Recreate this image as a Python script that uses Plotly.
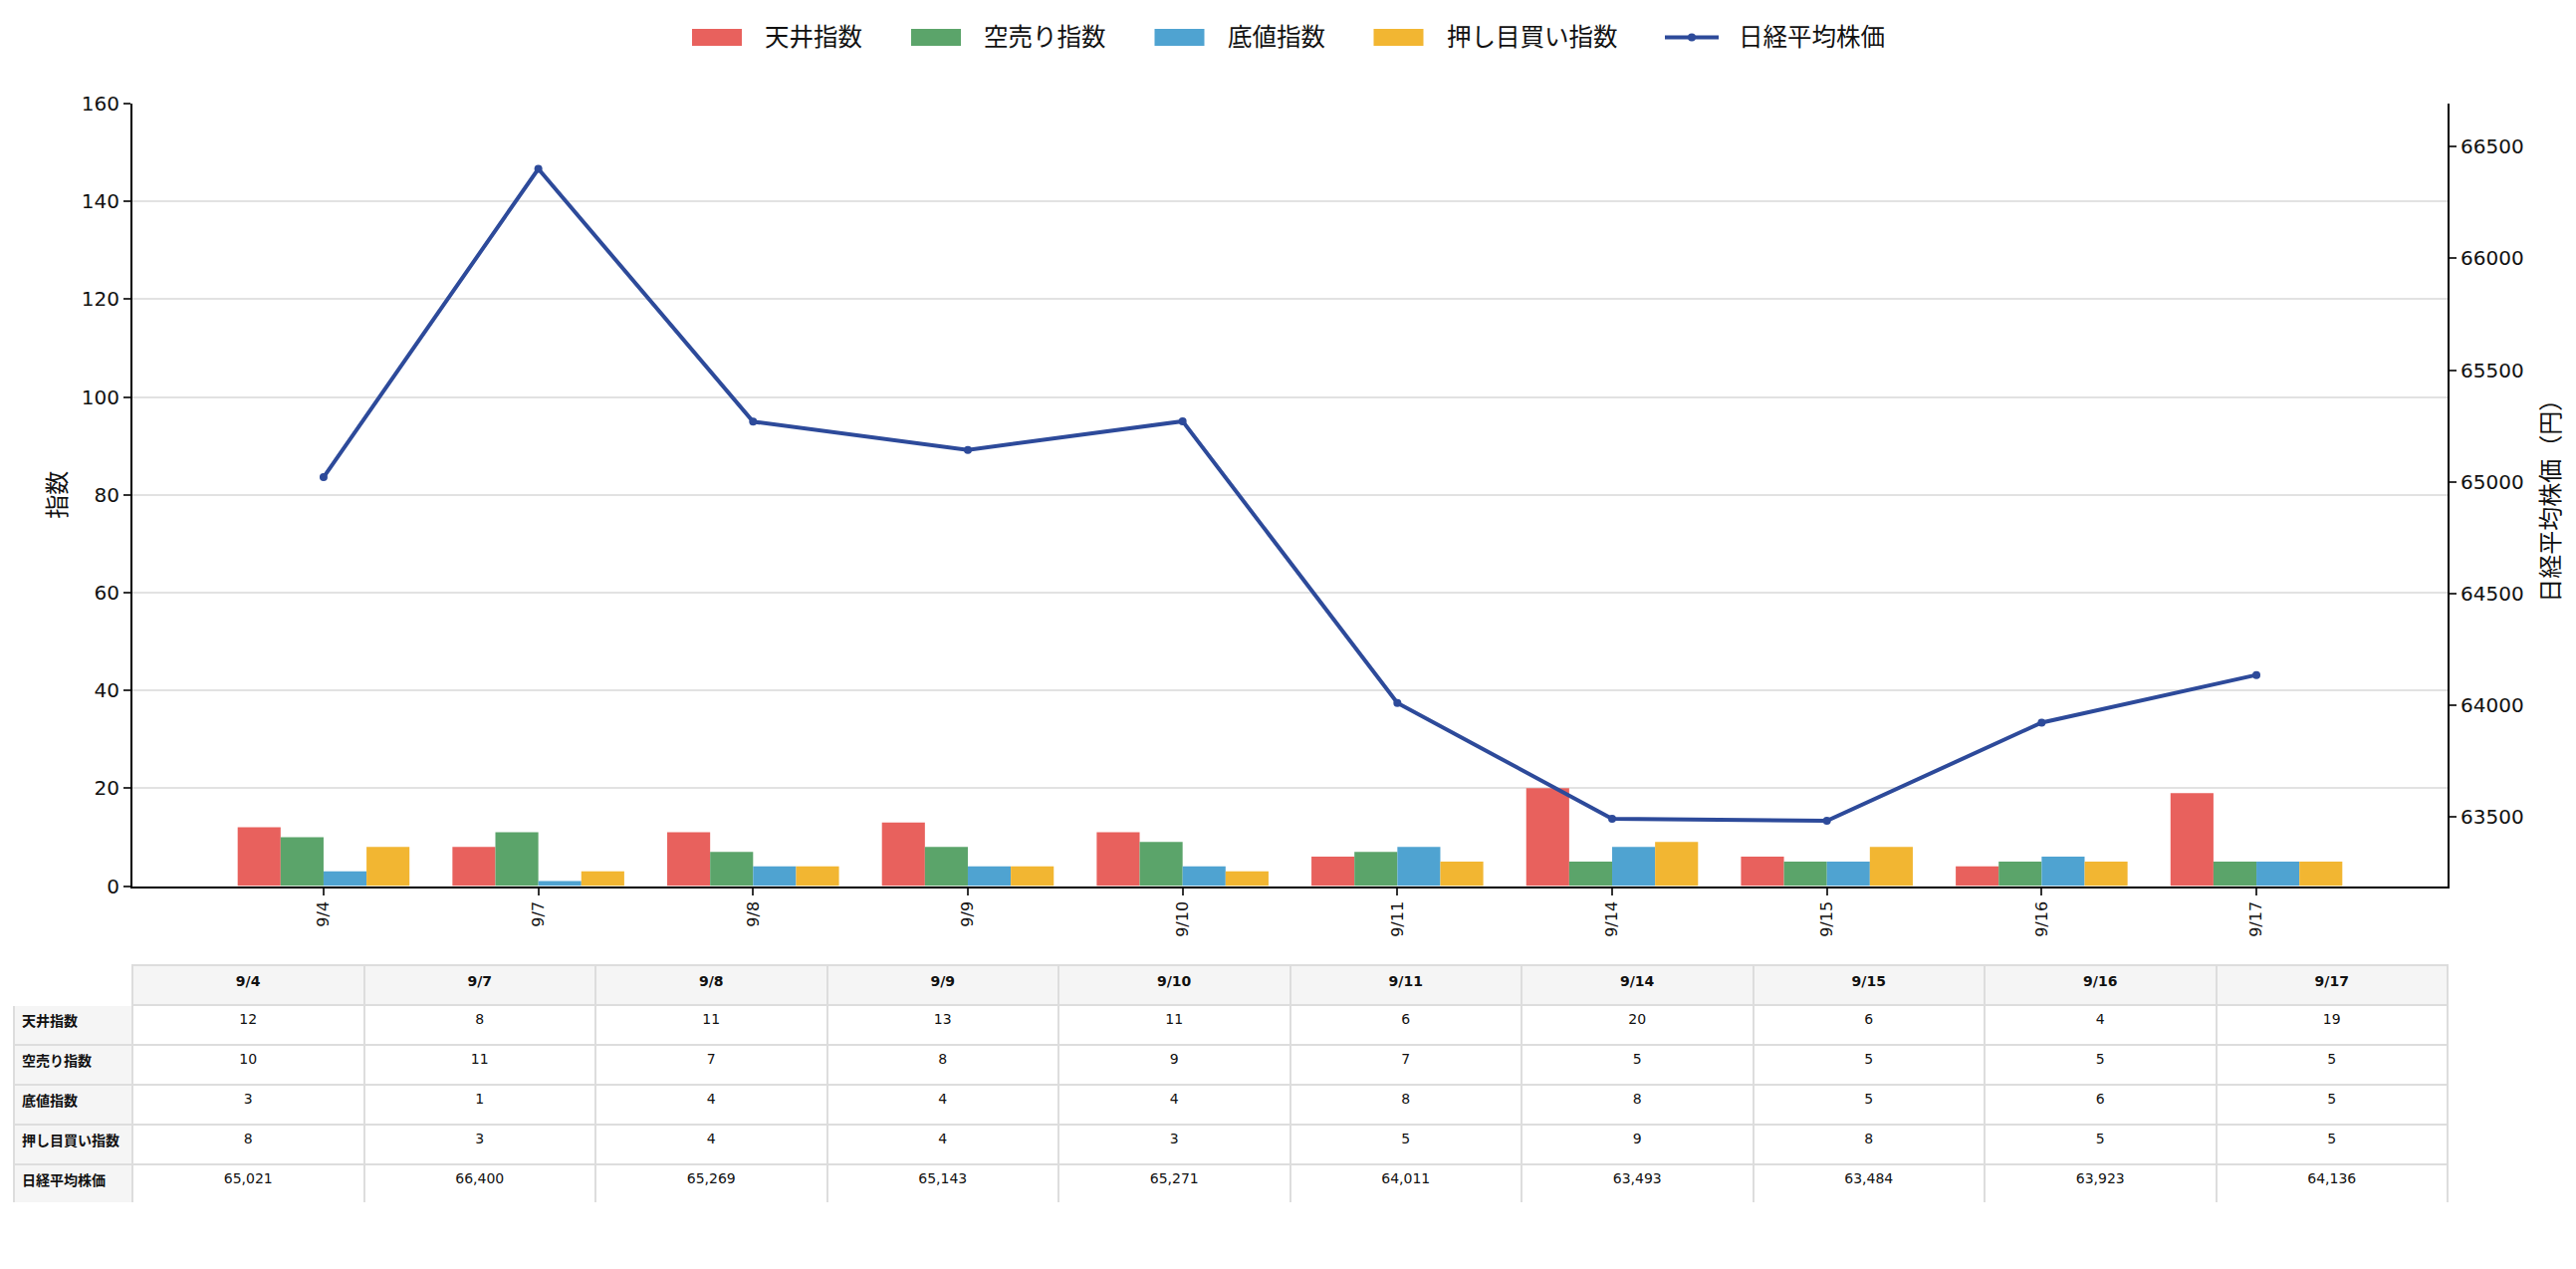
import plotly.graph_objects as go

W, H = 2587, 1274
FONT = "DejaVu Sans, Noto Sans CJK JP, sans-serif"

dates = ["9/4", "9/7", "9/8", "9/9", "9/10", "9/11", "9/14", "9/15", "9/16", "9/17"]
tenjo = [12, 8, 11, 13, 11, 6, 20, 6, 4, 19]       # 天井指数
karauri = [10, 11, 7, 8, 9, 7, 5, 5, 5, 5]         # 空売り指数
sokone = [3, 1, 4, 4, 4, 8, 8, 5, 6, 5]            # 底値指数
oshime = [8, 3, 4, 4, 3, 5, 9, 8, 5, 5]            # 押し目買い指数
nikkei = [65021, 66400, 65269, 65143, 65271, 64011, 63493, 63484, 63923, 64136]

bar_names = ["天井指数", "空売り指数", "底値指数", "押し目買い指数"]
bar_colors = ["#E8615D", "#5BA46A", "#4FA3D1", "#F2B632"]
line_name = "日経平均株価"
line_color = "#2D4A9A"


def px_x(v):
    return v / W


def px_y(v):
    return 1 - v / H


fig = go.Figure()

for name, vals, color in zip(bar_names, [tenjo, karauri, sokone, oshime], bar_colors):
    fig.add_trace(go.Bar(x=dates, y=vals, name=name, marker_color=color,
                         marker_line_width=0, showlegend=False))

fig.add_trace(go.Scatter(x=dates, y=nikkei, name=line_name, mode="lines+markers",
                         line=dict(color=line_color, width=4),
                         marker=dict(size=8, color=line_color),
                         yaxis="y2", showlegend=False))

# --- table under the chart ---
row_labels = bar_names + [line_name]
cols = [[f"<b>{r}</b>" for r in row_labels]]
for i in range(len(dates)):
    cols.append([str(tenjo[i]), str(karauri[i]), str(sokone[i]), str(oshime[i]),
                 f"{nikkei[i]:,}"])

fig.add_trace(go.Table(
    domain=dict(x=[px_x(14), px_x(2458)], y=[px_y(1208), px_y(969)]),
    columnwidth=[119] + [232.5] * len(dates),
    header=dict(values=[""] + [f"<b>{d}</b>" for d in dates],
                fill_color=["white", "#f5f5f5"],
                line=dict(color=["white", "#dddddd"], width=2),
                align="center", height=40,
                font=dict(family=FONT, size=14, color="#111")),
    cells=dict(values=cols,
               fill_color=["#f5f5f5", "white"],
               line=dict(color="#dddddd", width=2),
               align=["left", "center"], height=40,
               font=dict(family=FONT, size=14, color="#111")),
))

# --- hand-built legend (matplotlib style handles) ---
shapes = []
annotations = []
lx, ly = 695, 37.5
for name, color in zip(bar_names + [line_name], bar_colors + [line_color]):
    if name == line_name:
        shapes.append(dict(type="line", xref="paper", yref="paper",
                           x0=px_x(lx - 1), x1=px_x(lx + 53), y0=px_y(ly), y1=px_y(ly),
                           line=dict(color=color, width=4)))
        shapes.append(dict(type="circle", xref="paper", yref="paper",
                           x0=px_x(lx + 22), x1=px_x(lx + 30), y0=px_y(ly + 4), y1=px_y(ly - 4),
                           fillcolor=color, line=dict(width=0)))
    else:
        shapes.append(dict(type="rect", xref="paper", yref="paper",
                           x0=px_x(lx), x1=px_x(lx + 50), y0=px_y(ly + 8.5), y1=px_y(ly - 8.5),
                           fillcolor=color, line=dict(width=0)))
    annotations.append(dict(x=px_x(lx + 71), y=px_y(ly), xref="paper", yref="paper",
                            xanchor="left", yanchor="middle", showarrow=False, text=name,
                            font=dict(family=FONT, size=24.5, color="#111")))
    lx += 71 + 24.5 * len(name) + 51

axis_common = dict(showline=True, linecolor="black", linewidth=2, ticks="outside",
                   ticklen=7, tickwidth=2, tickcolor="#333", zeroline=False,
                   automargin=False)

fig.update_layout(
    width=W, height=H,
    margin=dict(l=0, r=0, t=0, b=0),
    paper_bgcolor="white", plot_bgcolor="white",
    font=dict(family=FONT, color="#111"),
    barmode="group", bargap=0.2, bargroupgap=0,
    showlegend=False,
    shapes=shapes, annotations=annotations,
    xaxis=dict(domain=[px_x(133), px_x(2458)], type="category", range=[-0.89, 9.89],
               tickangle=-90, tickfont=dict(size=16), showgrid=False, anchor="y",
               **axis_common),
    yaxis=dict(domain=[px_y(889.5), px_y(104)], range=[0, 160], dtick=20,
               showgrid=True, gridcolor="#e2e2e2", gridwidth=1.5,
               tickfont=dict(size=20),
               title=dict(text="指数", font=dict(size=24), standoff=8),
               **axis_common),
    yaxis2=dict(overlaying="y", side="right", anchor="x", range=[63192, 66692],
                tick0=63500, dtick=500, tickformat="d", showgrid=False,
                tickfont=dict(size=20),
                title=dict(text="日経平均株価（円）", font=dict(size=24), standoff=20),
                **axis_common),
)

fig.write_html("out.html", config={"displayModeBar": False},
               post_script="document.body.style.margin='0';")
